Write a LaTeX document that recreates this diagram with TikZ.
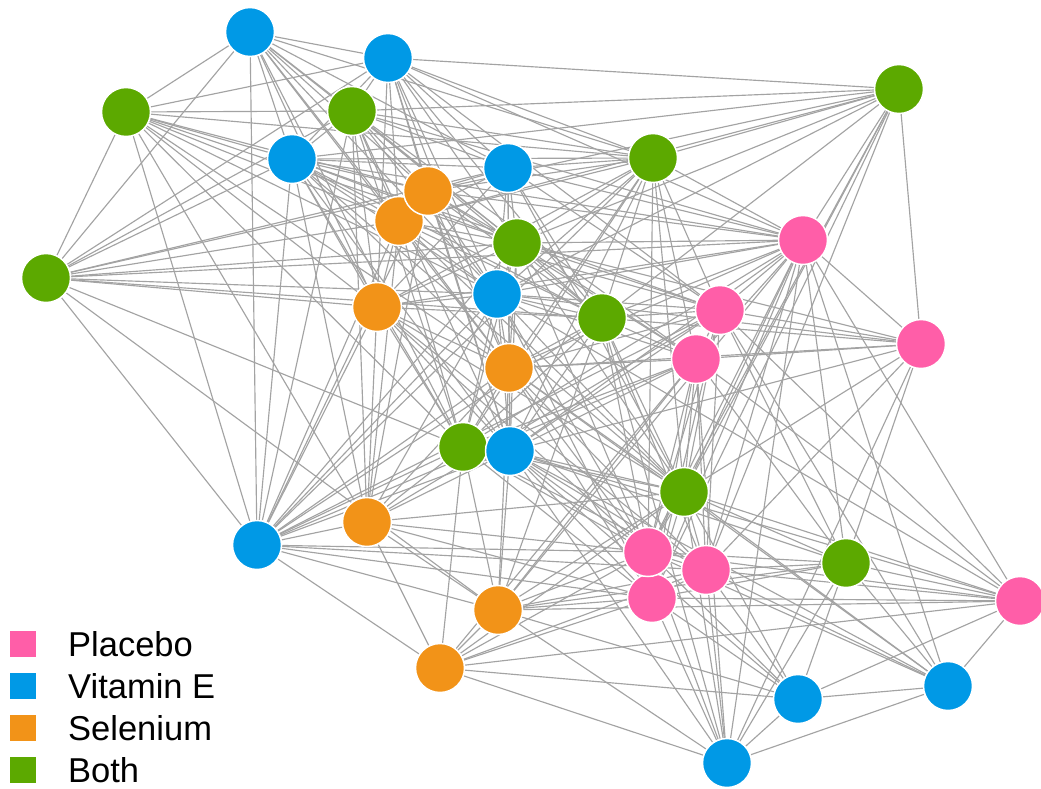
\documentclass[tikz,border=0pt]{standalone}
\usepackage{fontspec}
\setmainfont{Liberation Sans}
\usetikzlibrary{backgrounds}
\definecolor{placebo}{HTML}{FF5EA8}
\definecolor{vitamin}{HTML}{0099E6}
\definecolor{selenium}{HTML}{F29318}
\definecolor{both}{HTML}{5CA900}
\definecolor{linkgray}{HTML}{A3A3A3}

\begin{document}
\begin{tikzpicture}[x=1pt, y=-1pt,
    subj/.style={circle, draw=white, line width=1.5pt, minimum size=49pt, inner sep=0pt},
    link/.style={draw=linkgray, line width=1.15pt},
    key/.style={minimum size=26pt, inner sep=0pt},
    keytext/.style={anchor=base west, inner sep=0pt, font=\fontsize{34.5}{40}\selectfont}]
    \useasboundingbox (0,0) rectangle (1041,788);

    % Vitamin E subjects
    \node[subj, fill=vitamin] (VIT1) at (250,32) {};
    \node[subj, fill=vitamin] (VIT2) at (388,58) {};
    \node[subj, fill=vitamin] (VIT3) at (292,159) {};
    \node[subj, fill=vitamin] (VIT4) at (508,168) {};
    \node[subj, fill=vitamin] (VIT5) at (497,294) {};
    \node[subj, fill=vitamin] (VIT7) at (257,545) {};
    \node[subj, fill=vitamin] (VIT8) at (798,699) {};
    \node[subj, fill=vitamin] (VIT9) at (948,686) {};
    \node[subj, fill=vitamin] (VIT10) at (727,763) {};

    % Both subjects
    \node[subj, fill=both] (BOTH1) at (126,112) {};
    \node[subj, fill=both] (BOTH2) at (352,111) {};
    \node[subj, fill=both] (BOTH3) at (899,89) {};
    \node[subj, fill=both] (BOTH4) at (653,158) {};
    \node[subj, fill=both] (BOTH5) at (517,243) {};
    \node[subj, fill=both] (BOTH6) at (46,278) {};
    \node[subj, fill=both] (BOTH7) at (602,318) {};
    \node[subj, fill=both] (BOTH8) at (463,447) {};
    \node[subj, fill=both] (BOTH9) at (684,492) {};
    \node[subj, fill=both] (BOTH10) at (846,563) {};
    \node[subj, fill=vitamin] (VIT6) at (510,451) {};

    % Selenium subjects
    \node[subj, fill=selenium] (SEL2) at (399,221) {};
    \node[subj, fill=selenium] (SEL1) at (428,191) {};
    \node[subj, fill=selenium] (SEL3) at (377,307) {};
    \node[subj, fill=selenium] (SEL4) at (509,368) {};
    \node[subj, fill=selenium] (SEL5) at (367,522) {};
    \node[subj, fill=selenium] (SEL6) at (498,610) {};
    \node[subj, fill=selenium] (SEL7) at (440,668) {};

    % Placebo subjects
    \node[subj, fill=placebo] (PLA1) at (803,240) {};
    \node[subj, fill=placebo] (PLA2) at (720,310) {};
    \node[subj, fill=placebo] (PLA3) at (921,344) {};
    \node[subj, fill=placebo] (PLA4) at (696,359) {};
    \node[subj, fill=placebo] (PLA7) at (652,598) {};
    \node[subj, fill=placebo] (PLA5) at (648,552) {};
    \node[subj, fill=placebo] (PLA6) at (706,570) {};
    \node[subj, fill=placebo] (PLA8) at (1020,601) {};

    % Links
    \begin{scope}[on background layer]
    \foreach \t in {BOTH1,VIT1,VIT2,BOTH2,VIT3,SEL1,SEL2,VIT4,BOTH5,PLA1,VIT5,SEL3,BOTH7,BOTH8,SEL6,VIT7}
        \draw[link] (BOTH6) -- (\t);
    \foreach \t in {VIT1,VIT2,BOTH2,VIT3,SEL1,SEL2,BOTH4,BOTH5,SEL3,SEL4,VIT5,BOTH8,SEL5,VIT7}
        \draw[link] (BOTH1) -- (\t);
    \foreach \t in {VIT2,BOTH2,VIT3,SEL1,SEL2,VIT4,BOTH4,BOTH5,SEL3,VIT5,SEL4,BOTH8,VIT7}
        \draw[link] (VIT1) -- (\t);
    \foreach \t in {BOTH2,BOTH3,BOTH4,PLA1,VIT3,SEL1,SEL2,VIT4,BOTH5,VIT5,SEL3,SEL4,BOTH7,PLA2,VIT6}
        \draw[link] (VIT2) -- (\t);
    \foreach \t in {BOTH3,BOTH4,VIT3,SEL1,SEL2,VIT4,BOTH5,VIT5,SEL3,BOTH7,PLA1,PLA4,BOTH8,VIT6,SEL5,VIT7}
        \draw[link] (BOTH2) -- (\t);
    \foreach \t in {SEL1,SEL2,VIT4,BOTH4,BOTH3,BOTH5,SEL3,VIT5,BOTH7,PLA1,PLA2,SEL4,BOTH8,VIT6,VIT7,SEL5,BOTH9}
        \draw[link] (VIT3) -- (\t);
    \foreach \t in {SEL2,VIT4,BOTH4,BOTH3,BOTH5,VIT5,BOTH7,PLA1,PLA4,SEL4,VIT6,VIT7,SEL5}
        \draw[link] (SEL1) -- (\t);
    \foreach \t in {VIT4,BOTH4,BOTH3,BOTH5,SEL3,VIT5,BOTH7,PLA2,SEL4,BOTH8,VIT7,SEL5,BOTH9}
        \draw[link] (SEL2) -- (\t);
    \foreach \t in {BOTH4,BOTH5,VIT5,PLA1,BOTH7,PLA2,SEL4,VIT6,BOTH9,SEL3}
        \draw[link] (VIT4) -- (\t);
    \foreach \t in {BOTH3,BOTH5,VIT5,BOTH7,PLA1,PLA2,PLA4,SEL4,BOTH8,VIT6,VIT7,BOTH9,PLA5,SEL3}
        \draw[link] (BOTH4) -- (\t);
    \foreach \t in {BOTH5,VIT5,BOTH7,PLA1,PLA3,PLA7,BOTH9,PLA6,PLA5}
        \draw[link] (BOTH3) -- (\t);
    \foreach \t in {SEL3,VIT5,BOTH7,PLA1,PLA2,PLA4,SEL4,BOTH8,VIT6,VIT7,BOTH9,PLA5,PLA3}
        \draw[link] (BOTH5) -- (\t);
    \foreach \t in {VIT5,BOTH7,PLA1,SEL4,BOTH8,VIT6,VIT7,SEL5,PLA5,BOTH9,PLA6}
        \draw[link] (SEL3) -- (\t);
    \foreach \t in {BOTH7,PLA1,PLA2,PLA4,SEL4,BOTH8,VIT6,VIT7,SEL5,BOTH9,PLA5,PLA7,PLA3,PLA8}
        \draw[link] (VIT5) -- (\t);
    \foreach \t in {PLA1,PLA2,PLA4,SEL4,BOTH8,VIT6,VIT7,BOTH9,PLA5,PLA6,SEL6,PLA3,VIT10}
        \draw[link] (BOTH7) -- (\t);
    \foreach \t in {PLA2,PLA3,PLA4,SEL4,BOTH8,VIT6,BOTH9,PLA5,PLA6,PLA7,BOTH10,PLA8,VIT9,VIT10,SEL6}
        \draw[link] (PLA1) -- (\t);
    \foreach \t in {PLA3,PLA4,SEL4,VIT6,VIT7,BOTH9,PLA5,PLA6,PLA7,BOTH10,PLA8,VIT9,SEL5}
        \draw[link] (PLA2) -- (\t);
    \foreach \t in {PLA4,BOTH9,PLA6,BOTH10,VIT10,VIT6,SEL4}
        \draw[link] (PLA3) -- (\t);
    \foreach \t in {SEL4,BOTH8,VIT6,VIT7,BOTH9,PLA5,PLA6,PLA7,BOTH10,PLA8,VIT10,SEL6,SEL7}
        \draw[link] (PLA4) -- (\t);
    \foreach \t in {BOTH8,VIT6,VIT7,BOTH9,PLA5,PLA6,PLA7,SEL5,VIT9,SEL6}
        \draw[link] (SEL4) -- (\t);
    \foreach \t in {VIT6,VIT7,SEL5,BOTH9,PLA5,PLA7,SEL6,SEL7,PLA6}
        \draw[link] (BOTH8) -- (\t);
    \foreach \t in {VIT7,SEL5,BOTH9,PLA5,PLA6,PLA7,BOTH10,SEL6,PLA8,VIT8,VIT9,VIT10}
        \draw[link] (VIT6) -- (\t);
    \foreach \t in {SEL5,PLA5,PLA6,PLA7,SEL6,SEL7}
        \draw[link] (VIT7) -- (\t);
    \foreach \t in {BOTH9,PLA5,PLA7,SEL6,SEL7}
        \draw[link] (SEL5) -- (\t);
    \foreach \t in {PLA5,PLA6,PLA7,BOTH10,SEL6,SEL7,PLA8,VIT8,VIT9,VIT10}
        \draw[link] (BOTH9) -- (\t);
    \foreach \t in {PLA6,PLA7,BOTH10,SEL6,SEL7,PLA8,VIT8,VIT9,VIT10}
        \draw[link] (PLA5) -- (\t);
    \foreach \t in {PLA7,BOTH10,SEL6,SEL7,PLA8,VIT8,VIT9,VIT10}
        \draw[link] (PLA6) -- (\t);
    \foreach \t in {BOTH10,SEL6,SEL7,PLA8,VIT8,VIT10}
        \draw[link] (PLA7) -- (\t);
    \foreach \t in {SEL6,PLA8,VIT8,VIT9,VIT10}
        \draw[link] (BOTH10) -- (\t);
    \foreach \t in {SEL7,PLA8,VIT8,VIT10}
        \draw[link] (SEL6) -- (\t);
    \foreach \t in {VIT8,VIT10,PLA8}
        \draw[link] (SEL7) -- (\t);
    \foreach \t in {VIT8,VIT9}
        \draw[link] (PLA8) -- (\t);
    \foreach \t in {VIT9,VIT10}
        \draw[link] (VIT8) -- (\t);
    \draw[link] (VIT9) -- (VIT10);
    \end{scope}

    % Legend
    \node[key, fill=placebo] (KEY1) at (23,644) {};
    \node[key, fill=vitamin] (KEY2) at (23,686) {};
    \node[key, fill=selenium] (KEY3) at (23,728) {};
    \node[key, fill=both] (KEY4) at (23,770) {};
    \node[keytext] (LAB1) at (68,656) {Placebo};
    \node[keytext] (LAB2) at (68,698) {Vitamin E};
    \node[keytext] (LAB3) at (68,740) {Selenium};
    \node[keytext] (LAB4) at (68,782) {Both};
\end{tikzpicture}
\end{document}
